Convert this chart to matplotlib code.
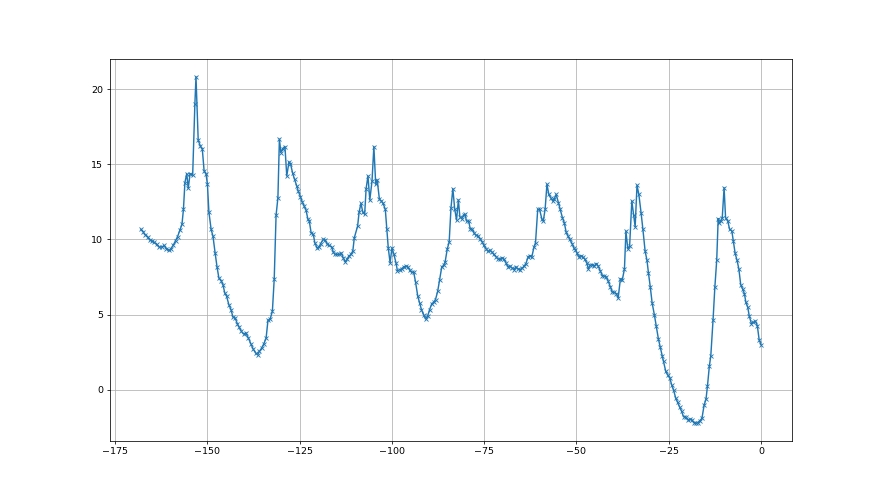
import numpy as np
import matplotlib
matplotlib.use("Agg")
import matplotlib.pyplot as plt

# values, in runs of markers from left to right
x_a = [-168.0, -167.4, -166.8, -166.2, -165.6, -165.0, -164.4, -163.8, -163.1, -162.4,
       -161.7, -161.1, -160.4, -159.9, -159.3, -158.6, -158.1, -157.5, -156.9, -156.5,
       -156.1, -155.6, -155.2, -154.7, -154.0, -153.4, -153.1, -152.5, -151.9, -151.4,
       -150.9, -150.4, -150.0, -149.6, -149.0, -148.5, -147.9, -147.4, -146.9, -146.3,
       -145.8, -145.3, -144.8, -144.2, -143.6, -143.1, -142.5, -141.9, -141.4, -140.8,
       -140.2]
y_a = [10.67, 10.5, 10.29, 10.18, 9.96, 9.9, 9.8, 9.67, 9.49, 9.49,
       9.6, 9.38, 9.27, 9.38, 9.6, 9.93, 10.18, 10.6, 11.0, 12.0,
       13.78, 14.38, 13.4, 14.38, 14.27, 19.0, 20.82, 16.6, 16.2, 16.04,
       14.56, 14.38, 13.67, 11.82, 10.67, 10.22, 9.07, 8.18, 7.44, 7.27,
       7.0, 6.44, 6.22, 5.67, 5.33, 4.84, 4.78, 4.4, 4.16, 3.89,
       3.71]

x_b = [-139.6, -138.9, -138.2, -137.6, -136.9, -136.4, -135.9, -135.3, -134.7, -134.1,
       -133.6, -133.0, -132.4, -131.9, -131.4, -130.9, -130.5, -130.1, -129.6, -129.0,
       -128.5, -127.9, -127.5, -126.9, -126.4, -125.8, -125.4, -124.8, -124.3, -123.8,
       -123.3, -122.8, -122.4, -121.9, -121.3, -120.9, -120.3, -119.8, -119.3, -118.6,
       -118.1, -117.5, -117.0, -116.3, -115.9, -115.4, -114.8, -114.3, -113.7, -113.2,
       -112.6, -112.2, -111.7, -111.1, -110.6, -110.2]
y_b = [3.78, 3.44, 3.04, 2.71, 2.44, 2.33, 2.56, 2.78, 3.07, 3.44,
       4.62, 4.71, 5.22, 7.38, 11.6, 12.78, 16.67, 15.78, 16.04, 16.18,
       14.22, 15.16, 15.04, 14.4, 14.0, 13.56, 13.22, 12.84, 12.49, 12.22,
       11.96, 11.38, 11.22, 10.44, 10.33, 9.78, 9.44, 9.49, 9.73, 10.0,
       9.96, 9.67, 9.6, 9.49, 9.16, 9.0, 9.0, 9.0, 9.07, 8.78,
       8.49, 8.67, 8.89, 9.0, 9.24, 10.11]

x_c = [-109.3, -108.9, -108.4, -107.9, -107.4, -107.0, -106.5, -106.0, -105.4, -104.9,
       -104.4, -104.0, -103.4, -102.9, -102.4, -101.8, -101.4, -101.0, -100.5, -100.0,
       -99.5, -98.9, -98.5, -97.9, -97.4, -96.8, -96.3, -95.7, -95.2, -94.7,
       -94.1, -93.6, -93.0, -92.5, -92.0, -91.4, -90.9, -90.3, -89.8, -89.2,
       -88.7, -88.2, -87.6, -87.1, -86.5, -86.0, -85.6, -85.0, -84.5, -84.0,
       -83.5, -83.0, -82.5, -82.0, -81.6, -81.1, -80.6, -80.2]
y_c = [10.89, 11.82, 12.4, 11.82, 11.67, 13.38, 14.22, 12.62, 13.89, 16.18,
       13.67, 13.96, 12.67, 12.56, 12.4, 12.0, 10.67, 9.44, 8.44, 9.44,
       9.04, 8.44, 7.89, 8.0, 8.04, 8.18, 8.22, 8.18, 7.96, 7.82,
       7.82, 7.16, 6.22, 5.78, 5.33, 5.0, 4.71, 4.93, 5.33, 5.73,
       5.82, 6.0, 6.56, 7.29, 8.18, 8.27, 8.49, 9.38, 9.82, 12.11,
       13.38, 12.04, 11.29, 12.62, 11.51, 11.38, 11.6, 11.67]

x_d = [-79.8, -79.2, -78.8, -78.2, -77.7, -77.2, -76.6, -76.1, -75.5, -75.1,
       -74.5, -74.0, -73.4, -72.9, -72.4, -71.8, -71.3, -70.7, -70.2, -69.6,
       -69.1, -68.6, -68.0, -67.5, -66.9, -66.4, -65.9, -65.3, -64.8, -64.2,
       -63.7, -63.1, -62.6, -62.1, -61.5, -61.1, -60.5, -60.0, -59.4, -59.0,
       -58.5, -58.0, -57.5, -57.0, -56.4, -56.0, -55.5, -54.9, -54.4, -53.8,
       -53.3, -52.8, -52.3, -51.8, -51.2, -50.7, -50.3]
y_d = [11.22, 11.22, 10.71, 10.67, 10.4, 10.27, 10.22, 10.04, 9.82, 9.6,
       9.38, 9.22, 9.27, 9.16, 9.0, 8.84, 8.71, 8.67, 8.78, 8.67,
       8.44, 8.18, 8.22, 8.11, 8.0, 8.18, 8.04, 8.0, 8.07, 8.22,
       8.4, 8.84, 8.93, 8.84, 9.51, 9.78, 12.0, 12.0, 11.38, 11.22,
       12.0, 13.67, 13.0, 12.78, 12.56, 12.71, 13.0, 12.44, 12.0, 11.44,
       11.11, 10.49, 10.22, 10.0, 9.73, 9.44, 9.33]

x_e = [-49.9, -49.4, -48.9, -48.3, -47.8, -47.2, -46.8, -46.3, -45.7, -45.2,
       -44.6, -44.1, -43.5, -43.0, -42.5, -41.9, -41.4, -40.8, -40.3, -39.8,
       -39.2, -38.7, -38.1, -37.6, -37.0, -36.6, -36.1, -35.6, -35.0, -34.5,
       -34.1, -33.6, -33.1, -32.5, -32.0, -31.4, -30.9, -30.5, -30.0, -29.5,
       -28.9, -28.4, -27.8, -27.3, -26.8, -26.4, -25.8, -25.3, -24.7, -24.2,
       -23.7, -23.1, -22.6, -22.0, -21.5, -21.0]
y_e = [9.11, 8.84, 8.93, 8.84, 8.71, 8.44, 8.04, 8.27, 8.33, 8.22,
       8.4, 8.22, 7.89, 7.6, 7.56, 7.51, 7.22, 6.84, 6.49, 6.49,
       6.4, 6.11, 7.38, 7.29, 8.04, 10.56, 9.38, 9.56, 12.56, 11.6,
       10.84, 13.6, 13.0, 11.78, 10.67, 9.22, 8.62, 7.78, 6.84, 5.78,
       5.0, 4.27, 3.38, 2.84, 2.27, 1.89, 1.22, 1.0, 0.78, 0.33,
       0.0, -0.56, -0.84, -1.16, -1.44, -1.78]

x_f = [-20.3, -19.8, -19.2, -18.7, -18.2, -17.6, -17.1, -16.5, -16.0, -15.4,
       -14.9, -14.5, -14.0, -13.6, -13.0, -12.5, -12.0, -11.6, -11.3, -10.9,
       -10.5, -10.0, -9.6, -9.0, -8.5, -7.9, -7.5, -7.0, -6.5, -6.0,
       -5.5, -5.0, -4.5, -4.1, -3.6, -3.2, -2.6, -2.1, -1.5, -1.0,
       -0.5, 0.0]
y_f = [-1.82, -2.0, -1.96, -2.0, -2.18, -2.22, -2.18, -2.04, -1.89, -1.0,
       -0.62, 0.27, 1.56, 2.27, 4.62, 6.84, 8.62, 11.38, 11.07, 11.22,
       11.44, 13.44, 11.44, 11.22, 10.67, 10.56, 9.89, 9.07, 8.62, 8.04,
       7.0, 6.71, 6.4, 5.82, 5.51, 4.93, 4.4, 4.49, 4.56, 4.27,
       3.33, 3.0]

x = np.array(x_a + x_b + x_c + x_d + x_e + x_f)
y = np.array(y_a + y_b + y_c + y_d + y_e + y_f)

# 1280x720 figure shrunk to 880x495
fig, ax = plt.subplots(figsize=(12.8, 7.2), dpi=68.75)
ax.plot(x, y, marker="x", markersize=5, markeredgewidth=0.9)
ax.grid(True)

fig.savefig("out.png", dpi=68.75)
